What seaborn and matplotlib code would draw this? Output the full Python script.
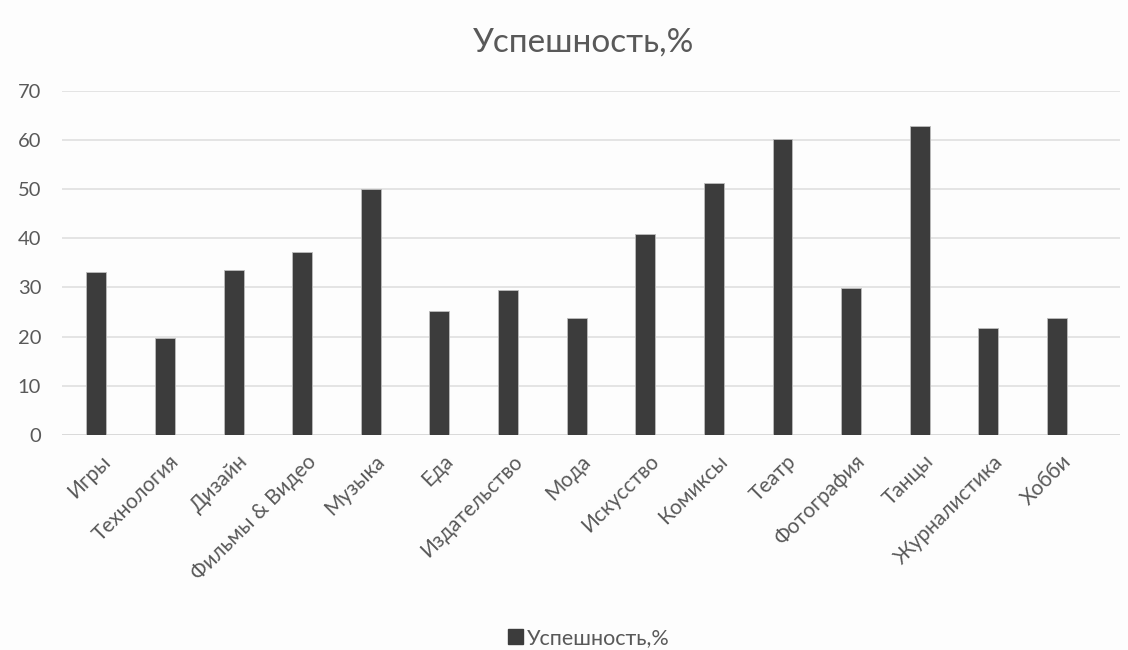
import matplotlib
matplotlib.use("Agg")
import matplotlib.pyplot as plt
import matplotlib.transforms as mtransforms
import seaborn as sns
import pandas as pd
from matplotlib.patches import Patch

categories = ["Игры", "Технология", "Дизайн", "Фильмы & Видео", "Музыка", "Еда",
              "Издательство", "Мода", "Искусство", "Комиксы", "Театр", "Фотография",
              "Танцы", "Журналистика", "Хобби"]
values = [33.2, 19.7, 33.6, 37.2, 50.1, 25.3, 29.5, 23.7, 40.8, 51.2, 60.2, 29.9, 62.9, 21.8, 23.7]
series_name = "Успешность,%"
y_ticks = [0, 10, 20, 30, 40, 50, 60, 70]

sns.set_theme(style="white")
plt.rcParams['font.family'] = ['Lato', 'DejaVu Sans']

df = pd.DataFrame({"cat": categories, "val": values})

fig = plt.figure(figsize=(11.28, 6.5), dpi=100)
fig.patch.set_facecolor("#fdfdfd")
ax = fig.add_axes([0.055, 0.331, 0.938, 0.529])
ax.set_facecolor("#fdfdfd")

sns.barplot(data=df, x="cat", y="val", color="#3c3c3c", width=0.29,
            edgecolor="#bdbdbd", linewidth=0.6, ax=ax, zorder=3, saturation=1)

ax.set_ylim(0, 70)
ax.set_xlim(-0.5, 14.92)
ax.set_yticks(y_ticks)
ax.yaxis.grid(True, color="#e0e0e0", linewidth=1.2, zorder=0)
ax.set_axisbelow(True)
for s in ax.spines.values():
    s.set_visible(False)
ax.axhline(0, color="#d9d9d9", linewidth=1.2, zorder=2)

ax.set_xlabel("")
ax.set_ylabel("")
ax.tick_params(axis="y", labelsize=14.5, colors="#595959", length=0, pad=15)
ax.tick_params(axis="x", labelsize=15, colors="#595959", length=0, pad=17)
offset = mtransforms.ScaledTranslation(11 / 100, 0, fig.dpi_scale_trans)
for lbl in ax.get_xticklabels():
    lbl.set_rotation(45)
    lbl.set_ha("right")
    lbl.set_va("center")
    lbl.set_rotation_mode("anchor")
    lbl.set_transform(lbl.get_transform() + offset)

fig.text(0.517, 0.935, series_name, ha="center", va="center", fontsize=24, color="#595959")

handle = Patch(facecolor="#3c3c3c", edgecolor="#3c3c3c", label=series_name)
fig.legend(handles=[handle], loc="center", bbox_to_anchor=(0.522, 0.018), frameon=False,
           fontsize=15.5, labelcolor="#595959", handlelength=0.7, handleheight=0.7,
           handletextpad=0.2)

fig.savefig("out.png", dpi=100, facecolor=fig.get_facecolor())
